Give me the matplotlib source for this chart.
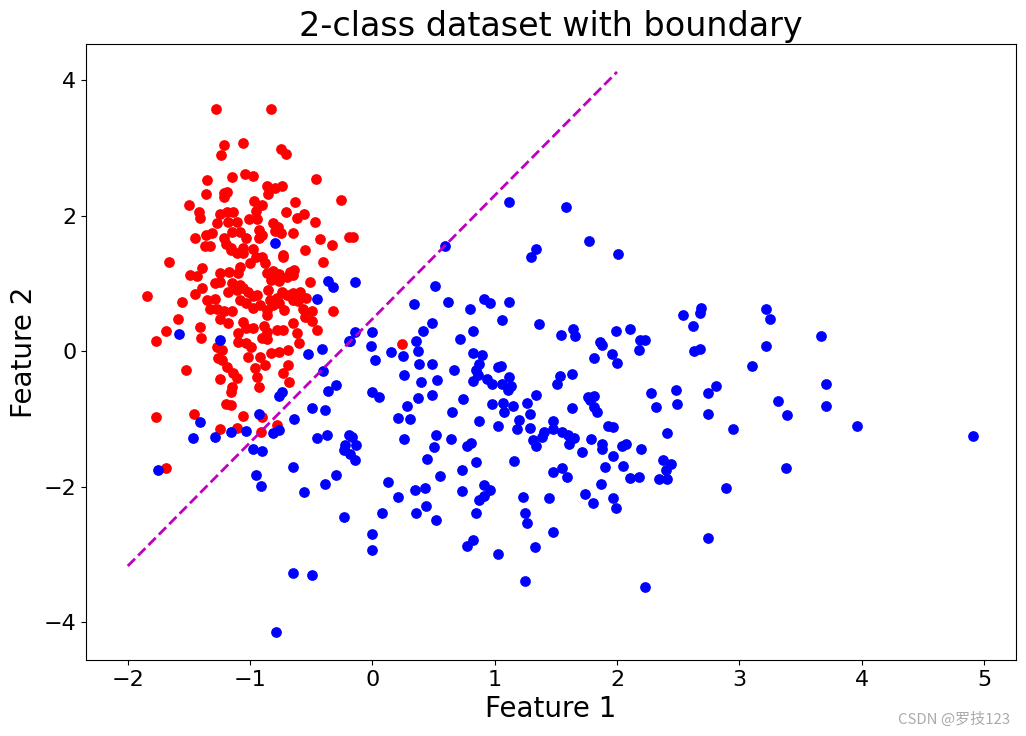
import matplotlib.pyplot as plt

# class 0 (red) points
red_x = [-1.28, -0.83, -1.21, -1.06, -1.24, -0.75, -0.71, -1.35, -1.15, -1.04, -0.98, -0.46,
         -1.36, -1.21, -1.19, -1.21, -0.86, -0.80, -0.74, -0.85, -1.50, -0.26, -0.63, -0.97,
         -0.90, -1.42, -1.41, -0.71, -0.62, -0.56, -0.47, -0.95, -0.94, -1.01, -1.25, -1.19,
         -1.14, -1.27, -1.18, -1.11, -0.81, -0.77, -0.80, -0.75, -0.65, -0.43, -0.33, -1.45,
         -1.36, -1.31, -1.37, -1.33, -1.21, -1.15, -1.08, -1.03, -0.93, -0.90, -0.93, -1.20,
         -1.16, -1.06, -0.98, -0.55, -0.19, -0.73,
         -1.66, -0.73, -0.40, -1.39, -1.49, -1.43, -1.25, -1.29, -1.17, -1.10, -1.08, -1.00,
         -0.95, -0.90, -0.88, -1.06, -1.11, -1.16, -0.86, -0.81, -0.76, -0.67, -0.65, -0.64,
         -0.83, -0.76, -0.70, -0.51, -1.84, -1.56, -1.39, -1.45, -1.25, -1.15, -1.08, -1.18,
         -1.11, -1.06, -1.02, -0.98, -0.94, -0.85, -0.84, -0.78, -0.74, -0.70, -0.65, -0.59,
         -0.65, -0.61, -0.54, -1.35, -1.29, -1.33, -1.27, -1.21, -1.15, -1.08, -1.03, -0.98,
         -0.92, -0.86, -0.81, -0.76, -0.72, -0.86, -0.57, -0.49, -0.55, -0.49, -0.45, -0.32,
         -1.59, -1.69, -1.77, -1.41, -1.40, -1.25, -1.18, -1.06, -1.03, -0.98, -0.89, -0.86,
         -0.90, -0.86, -1.10, -1.10, -1.03, -0.99, -0.78, -0.73, -0.65, -0.62, -0.60, -1.27,
         -1.23, -1.26, -1.23, -1.02, -0.92, -0.88, -0.83, -0.76, -0.69, -0.69, -0.73, -0.68,
         -0.96, -0.94, -0.93, -1.19, -1.14, -1.11, -1.15, -1.16, -1.25, -1.52, -1.20, -1.16,
         -1.06, -1.77, -1.46, -1.25, -1.11, -0.90, -0.91, -0.78, -1.69, 0.24, -0.16]
red_y = [3.57, 3.57, 3.04, 3.07, 2.89, 2.98, 2.91, 2.52, 2.57, 2.61, 2.58, 2.54,
         2.32, 2.33, 2.35, 2.27, 2.44, 2.41, 2.44, 2.32, 2.15, 2.23, 2.20, 2.21,
         2.15, 2.05, 1.96, 2.05, 1.96, 2.02, 1.90, 2.07, 1.95, 1.95, 2.02, 2.05,
         2.05, 1.89, 1.90, 1.90, 1.89, 1.83, 1.77, 1.74, 1.74, 1.65, 1.56, 1.67,
         1.71, 1.74, 1.55, 1.55, 1.67, 1.76, 1.76, 1.67, 1.79, 1.71, 1.67, 1.58,
         1.52, 1.52, 1.51, 1.49, 1.68, 1.42,
         1.31, 1.39, 1.31, 1.23, 1.12, 1.11, 1.15, 1.00, 1.17, 1.15, 1.24, 1.30,
         1.39, 1.39, 1.30, 1.45, 1.45, 1.49, 1.15, 1.18, 1.14, 1.17, 1.12, 1.20,
         1.05, 1.03, 1.09, 1.02, 0.81, 0.72, 0.93, 0.84, 1.02, 1.00, 0.97, 0.87,
         0.90, 0.93, 0.87, 0.81, 0.83, 0.90, 0.75, 0.78, 0.87, 0.83, 0.86, 0.87,
         0.75, 0.74, 0.78, 0.75, 0.77, 0.62, 0.62, 0.59, 0.59, 0.75, 0.71, 0.63,
         0.68, 0.61, 0.68, 0.71, 0.61, 0.53, 0.62, 0.59, 0.50, 0.44, 0.31, 0.59,
         0.47, 0.30, 0.15, 0.35, 0.19, 0.47, 0.41, 0.43, 0.34, 0.34, 0.37, 0.28,
         0.19, 0.18, 0.27, 0.13, 0.12, 0.06, 0.31, 0.31, 0.41, 0.27, 0.12, 0.06,
         0.01, -0.10, -0.13, -0.09, -0.09, -0.21, -0.03, -0.01, 0.01, -0.21, -0.32, -0.46,
         -0.25, -0.38, -0.53, -0.24, -0.32, -0.40, -0.53, -0.61, -0.41, -0.28, -0.78, -0.80,
         -0.96, -0.97, -0.93, -1.15, -1.14, -0.97, -1.20, -1.09, -1.73, 0.10, 1.68]

# class 1 (blue) points
blue_x = [-1.58, -1.75, -1.47, -1.41, -1.29, -1.16, -1.03, -1.25, -0.36, -0.32, -0.45, -0.41,
          -0.53, -0.40, -0.30, -0.36, -0.74, -0.76, -0.49, -0.39, -0.64, -0.93, -0.81, -0.76,
          -0.45, -0.37, -0.19, -0.19, -0.98, -0.90, -0.17, -0.22, -0.23, -0.13, -0.18, -0.14,
          -0.65, -0.95, -0.91, -0.56, -0.39, -0.30, -0.23, -0.65, -0.49, -0.79, -0.80,
          1.12, 0.59, 1.34, 1.30, -0.14, 0.51, 0.34, 0.62, 0.91, 0.96, 1.12, 0.80, 1.06,
          1.36, -0.14, -0.18, 0.00, 0.49, 0.41, 0.82, 0.72, 0.36, -0.01, 0.15, 0.25, 0.37,
          0.02, 0.38, 0.49, 0.82, 0.90, 0.87, 0.85, 0.86, 1.03, 1.05, 0.67, 0.26, 0.40,
          0.53, 0.82, 0.94, 0.98, 1.12, 1.06, 1.13, 1.11, 1.34, 0.00, 0.05, 0.37, 0.49, 0.74,
          0.28, 0.65, 0.21, 0.31, 0.87, 0.98, 1.07, 1.15, 1.08, 1.26, 1.29, 1.20, 1.18, 1.29,
          1.03, 0.26, 0.52, 0.64, 0.50, 0.77, 0.81, 1.31, 1.34, 0.45, 0.85, 1.16, 0.73, 0.55,
          0.13, 0.35, 0.43, 0.21, 0.73, 0.91, 0.96, 0.91, 0.87, 1.23, 0.44, 0.36, 0.52, 0.08,
          0.85, 1.25, 1.26, 0.00, 0.00, 0.82, 0.77, 1.03, 1.33, 1.25,
          1.58, 1.77, 2.01, 1.54, 1.64, 1.66, 1.99, 2.11, 1.86, 1.88, 2.19, 2.23, 2.18, 1.96,
          2.00, 1.81, 2.54, 2.69, 2.68, 2.62, 2.63, 2.68, 1.53, 1.51, 1.63, 1.76, 1.81, 2.28,
          2.48, 2.74, 2.81,
          1.63, 1.78, 1.81, 1.84, 2.32, 2.49, 2.74, 2.95, 2.41, 1.48, 1.48, 1.40, 1.39, 1.55,
          1.60, 1.65, 1.61, 1.79, 1.71, 1.93, 1.97, 1.88, 1.88, 2.04, 2.07, 1.97, 2.20, 1.90,
          2.05, 2.11, 2.18, 2.38, 2.44, 2.40, 2.34, 2.41, 1.48, 1.55, 1.59, 1.87, 1.74, 1.80,
          1.97, 1.99, 1.44, 2.89, 1.48, 2.74, 2.23,
          3.22, 3.25, 3.67, 3.22, 3.10, 3.71, 3.32, 3.39, 3.71, 3.96, 4.91, 3.38]
blue_y = [0.25, -1.76, -1.28, -1.05, -1.27, -1.20, -1.18, 0.16, 1.03, 0.94, 0.77, 0.03,
          -0.04, -0.30, -0.50, -0.59, -0.61, -0.66, -0.84, -0.87, -1.00, -0.93, -1.21, -1.17,
          -1.28, -1.23, 0.15, -1.24, -1.45, -1.48, -1.27, -1.39, -1.46, -1.39, -1.52, -1.61,
          -1.71, -1.83, -1.99, -2.08, -1.96, -1.82, -2.44, -3.28, -3.31, -4.15, 1.59,
          2.20, 1.55, 1.51, 1.39, 1.02, 0.96, 0.69, 0.72, 0.77, 0.71, 0.72, 0.62, 0.46,
          0.40, 0.28, 0.15, 0.28, 0.41, 0.30, 0.30, 0.18, 0.15, 0.07, -0.01, -0.07, 0.00,
          -0.13, -0.19, -0.19, -0.03, -0.06, -0.19, -0.28, -0.35, -0.24, -0.22, -0.28, -0.35, -0.46,
          -0.43, -0.44, -0.41, -0.49, -0.38, -0.49, -0.52, -0.58, -0.65, -0.61, -0.68, -0.69, -0.65, -0.71,
          -0.81, -0.90, -0.99, -1.00, -1.03, -0.78, -0.77, -0.81, -0.90, -0.77, -0.92, -1.02, -1.15, -1.14,
          -1.11, -1.30, -1.24, -1.30, -1.42, -1.40, -1.36, -1.31, -1.40, -1.59, -1.64, -1.62, -1.76, -1.84,
          -1.93, -2.05, -2.02, -2.15, -2.07, -1.98, -2.05, -2.14, -2.20, -2.15, -2.29, -2.39, -2.49, -2.39,
          -2.39, -2.39, -2.54, -2.70, -2.94, -2.79, -2.88, -3.00, -2.89, -3.39,
          2.13, 1.62, 1.43, 0.24, 0.32, 0.22, 0.30, 0.32, 0.13, 0.09, 0.16, 0.16, 0.01, -0.04,
          -0.18, -0.10, 0.53, 0.63, 0.56, 0.37, 0.00, 0.03, -0.37, -0.49, -0.34, -0.68, -0.66, -0.62,
          -0.58, -0.62, -0.52,
          -0.84, -0.72, -0.83, -0.90, -0.83, -0.78, -0.93, -1.15, -1.21, -1.03, -1.15, -1.20, -1.27, -1.20,
          -1.24, -1.28, -1.37, -1.30, -1.49, -1.11, -1.12, -1.37, -1.45, -1.40, -1.37, -1.54, -1.45, -1.71,
          -1.70, -1.87, -1.86, -1.61, -1.67, -1.76, -1.89, -1.89, -1.79, -1.73, -1.86, -1.96, -2.11, -2.24,
          -2.17, -2.32, -2.17, -2.02, -2.67, -2.75, -3.48,
          0.62, 0.47, 0.22, 0.07, -0.22, -0.49, -0.73, -0.94, -0.81, -1.11, -1.25, -1.73]

# decision boundary end points
boundary_x = [-2, 2]
boundary_y = [-3.17, 4.12]

fig = plt.figure(figsize=(10.26, 7.36), dpi=100)
ax = fig.add_axes([0.084, 0.103, 0.906, 0.837])

ax.scatter(red_x, red_y, c='red', s=45)
ax.scatter(blue_x, blue_y, c='blue', s=45)
ax.plot(boundary_x, boundary_y, 'm--', linewidth=2)

ax.set_xlim(-2.34, 5.26)
ax.set_ylim(-4.56, 4.53)
ax.set_title("2-class dataset with boundary", fontsize=24)
ax.set_xlabel("Feature 1", fontsize=20)
ax.set_ylabel("Feature 2", fontsize=20)
ax.tick_params(axis='both', labelsize=16)

fig.text(0.985, 0.023, "CSDN @罗技123", ha='right', va='center', fontsize=10.8,
         color='#aaaaaa', family=['Noto Sans CJK SC', 'DejaVu Sans'])

fig.savefig("out.png", dpi=100)
